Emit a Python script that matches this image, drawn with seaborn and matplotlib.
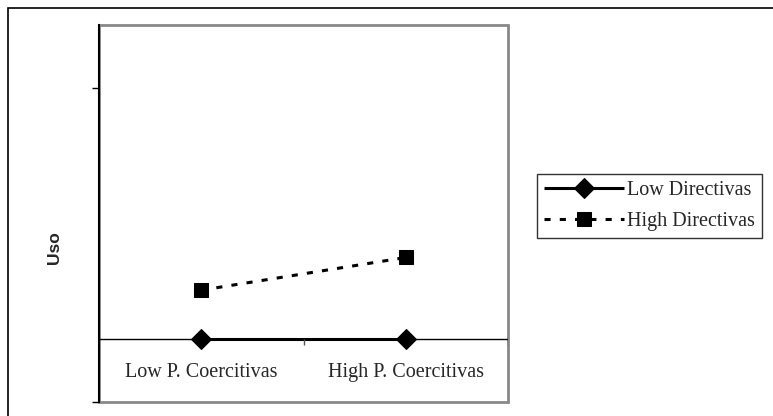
import pandas as pd
import matplotlib.pyplot as plt
from matplotlib.patches import Rectangle
import seaborn as sns

categorias = ['Low P. Coercitivas', 'High P. Coercitivas']
series = ['Low Directivas', 'High Directivas']
low_directivas = [0.0, 0.0]
high_directivas = [0.78, 1.30]

df = pd.DataFrame({
    'coercitivas': categorias * 2,
    'uso': low_directivas + high_directivas,
    'serie': [series[0]] * 2 + [series[1]] * 2,
})

sns.set_style('white')
plt.rcParams['font.family'] = ['Liberation Serif', 'DejaVu Serif']

fig = plt.figure(figsize=(7.73, 4.16), dpi=100)
ax = fig.add_axes([99 / 773, 14 / 416, 409 / 773, 377 / 416])

sns.lineplot(data=df, x='coercitivas', y='uso', style='serie', color='black',
             markers=['D', 's'], dashes=[(1, 0), (2, 3)], markersize=10,
             linewidth=2.2, markeredgecolor='black', ax=ax)

ax.set_xlim(-0.5, 1.5)
ax.set_ylim(-1, 5)
ax.set_yticks([-1, 4])
ax.set_yticklabels([])
ax.tick_params(axis='y', direction='out', length=5, width=1, color='black', left=True)

# x axis sits at zero, labels under it
for s in ['top', 'right', 'bottom']:
    ax.spines[s].set_visible(False)
ax.spines['left'].set_color('black')
ax.spines['left'].set_linewidth(1.5)
ax.axhline(0, color='black', lw=1, zorder=1)
ax.set_xticks([0, 1])
ax.set_xticklabels([])
for i, lab in enumerate(categorias):
    ax.text(i, -0.53, lab, ha='center', va='center', fontsize=14.5)
for xt in [0.5, 1.5]:
    ax.plot([xt, xt], [0, -0.09], color='#555555', lw=1, solid_capstyle='butt')
ax.tick_params(axis='x', length=0)

ax.add_patch(Rectangle((0, 0), 1, 1, transform=ax.transAxes, fill=False,
                       edgecolor='#888888', lw=2, clip_on=False, zorder=0))

ax.set_xlabel('')
ax.set_ylabel('Uso', fontsize=12.5, fontweight='bold', family='Liberation Sans')
ax.yaxis.set_label_coords(-0.09, 0.41)

leg = ax.legend(loc='center left', bbox_to_anchor=(1.07, 0.52), fontsize=14.5,
                frameon=True, fancybox=False, edgecolor='black', handlelength=4,
                borderpad=0.35, labelspacing=0.55, handletextpad=0.15, borderaxespad=0)
leg.get_frame().set_linewidth(1)

# outer chart frame
fig.patches.append(Rectangle((8 / 773, -0.1), 1.1, (416 - 8) / 416 + 0.1,
                             transform=fig.transFigure, fill=False,
                             edgecolor='black', lw=1.2))

fig.savefig('out.png', dpi=100)
